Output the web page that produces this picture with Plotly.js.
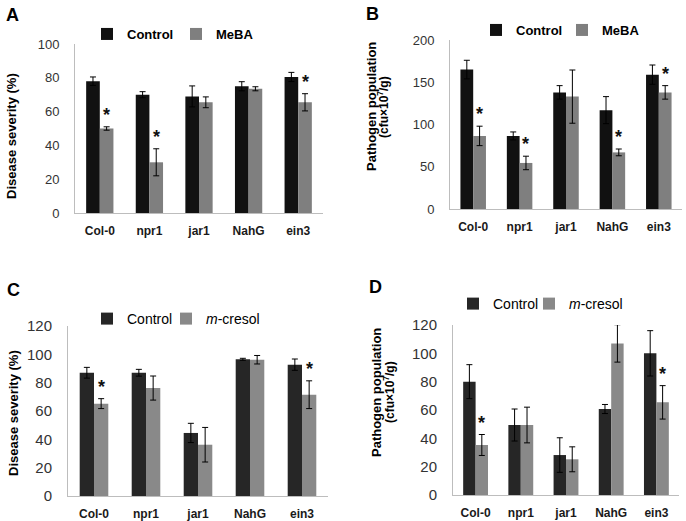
<!DOCTYPE html>
<html>
<head>
<meta charset="utf-8">
<script src="https://cdn.plot.ly/plotly-3.0.1.min.js"></script>
<style>html,body{margin:0;padding:0;background:#fff;}#chart{width:686px;height:521px;}</style>
</head>
<body>
<div id="chart"></div>
<script>
// ---- data ----
const categories = ['Col-0', 'npr1', 'jar1', 'NahG', 'ein3'];

const aControl    = [78, 70, 69, 75, 80.5];
const aControlErr = [2.5, 1.8, 6.2, 2.7, 2.7];
const aMeBA       = [50, 30, 65.5, 73.5, 65.5];
const aMeBAErr    = [1, 8, 3.2, 1.2, 5.1];
const aSig        = ['Col-0', 'npr1', 'ein3'];

const bControl    = [165, 86.5, 138, 117, 159];
const bControlErr = [11, 4.7, 8, 16, 11.4];
const bMeBA       = [86.5, 54.5, 133, 67, 138];
const bMeBAErr    = [11.5, 8, 31.5, 4, 8];
const bSig        = ['Col-0', 'npr1', 'NahG', 'ein3'];

const cControl    = [87, 87, 44.5, 96.5, 92.7];
const cControlErr = [3.8, 2.4, 6.8, 0.7, 4];
const cCresol     = [65.2, 76.2, 36.2, 96.2, 71.5];
const cCresolErr  = [3.5, 8.5, 12.2, 3, 9.8];
const cSig        = ['Col-0', 'ein3'];

const dControl    = [80, 49.4, 28.2, 60.7, 100];
const dControlErr = [12, 11.3, 12.2, 3.2, 16];
const dCresol     = [35.3, 49.4, 25.2, 107, 65.4];
const dCresolErr  = [7.4, 12.6, 8.8, 13.2, 11.8];
const dSig        = ['Col-0', 'ein3'];

// ---- styling helpers ----
const W = 686, H = 521;
const px = v => v / W;
const py = v => 1 - v / H;
const FONT = 'Liberation Sans, Arial, sans-serif';
const BARGAP = 0.45;

function err(arr) {
  return {type: 'data', array: arr, visible: true, color: '#000', thickness: 1, width: 3};
}
function bar(name, y, e, color, xa, ya, leg) {
  return {type: 'bar', name: name, x: categories, y: y, error_y: err(e),
          marker: {color: color, line: {width: 0}}, xaxis: xa, yaxis: ya,
          legend: leg, hoverinfo: 'skip'};
}

const data = [
  bar('Control', aControl, aControlErr, '#111111', 'x', 'y', 'legend'),
  bar('MeBA', aMeBA, aMeBAErr, '#7f7f7f', 'x', 'y', 'legend2'),
  bar('Control', bControl, bControlErr, '#111111', 'x2', 'y2', 'legend3'),
  bar('MeBA', bMeBA, bMeBAErr, '#7f7f7f', 'x2', 'y2', 'legend4'),
  bar('Control', cControl, cControlErr, '#262626', 'x3', 'y3', 'legend5'),
  bar('<i>m</i>-cresol', cCresol, cCresolErr, '#898989', 'x3', 'y3', 'legend6'),
  bar('Control', dControl, dControlErr, '#262626', 'x4', 'y4', 'legend7'),
  bar('<i>m</i>-cresol', dCresol, dCresolErr, '#898989', 'x4', 'y4', 'legend8')
];

function xaxis(d0, d1, anchor) {
  return {domain: [px(d0), px(d1)], anchor: anchor, type: 'category',
          showline: true, linecolor: '#bdbdbd', linewidth: 1, showgrid: false,
          zeroline: false, ticks: '', ticklabelstandoff: 7,
          tickfont: {family: FONT, size: 12, color: '#1a1a1a', weight: 'bold'}, fixedrange: true};
}
function yaxis(top, bottom, anchor, range, dtick, fs) {
  return {domain: [py(bottom), py(top)], anchor: anchor, range: range, dtick: dtick,
          showline: true, linecolor: '#bdbdbd', linewidth: 1, showgrid: false,
          zeroline: false, ticks: '', ticklabelstandoff: 12,
          tickfont: {family: FONT, size: fs, color: '#333'}, fixedrange: true};
}

const annotations = [];
function stars(sig, vals, errs, xref, yref) {
  sig.forEach(c => {
    const i = categories.indexOf(c);
    annotations.push({xref: xref, yref: yref, x: i + (1 - BARGAP) / 4, y: vals[i] + errs[i],
      text: '*', showarrow: false, yanchor: 'middle', xanchor: 'center', yshift: 12,
      font: {family: FONT, size: 18, color: '#111', weight: 'bold'}});
  });
}
stars(aSig, aMeBA, aMeBAErr, 'x', 'y');
stars(bSig, bMeBA, bMeBAErr, 'x2', 'y2');
stars(cSig, cCresol, cCresolErr, 'x3', 'y3');
stars(dSig, dCresol, dCresolErr, 'x4', 'y4');

function label(t, x, y) {
  annotations.push({xref: 'paper', yref: 'paper', x: px(x), y: py(y), text: t, showarrow: false,
    xanchor: 'center', yanchor: 'middle', font: {family: FONT, size: 18, color: '#000', weight: 'bold'}});
}
label('A', 12, 15); label('B', 372, 14); label('C', 13, 290); label('D', 376, 287);

function ytitle(t, x, y, size) {
  annotations.push({xref: 'paper', yref: 'paper', x: px(x), y: py(y), text: t, showarrow: false,
    textangle: -90, xanchor: 'center', yanchor: 'middle',
    font: {family: FONT, size: size, color: '#000', weight: 'bold'}});
}
ytitle('Disease severity (%)', 12, 136, 13);
ytitle('Pathogen population', 371, 107, 13);
ytitle('(cfu×10<sup>7</sup>/g)', 383, 107, 12);
ytitle('Disease severity (%)', 13, 413, 13);
ytitle('Pathogen population', 376, 392, 13);
ytitle('(cfu×10<sup>7</sup>/g)', 389, 392, 12);

function legend(x, y, fontOpts) {
  return {orientation: 'h', x: px(x), y: py(y), xanchor: 'left', yanchor: 'middle',
          bgcolor: 'rgba(0,0,0,0)', borderwidth: 0, itemwidth: 30, traceorder: 'normal',
          itemclick: false, itemdoubleclick: false, font: fontOpts};
}
const boldLeg = {family: FONT, size: 13, color: '#000', weight: 'bold'};
const plainLeg = {family: FONT, size: 14, color: '#000'};

const layout = {
  width: W, height: H,
  margin: {l: 0, r: 0, t: 0, b: 0},
  paper_bgcolor: '#fff', plot_bgcolor: '#fff',
  barmode: 'group', bargap: BARGAP, bargroupgap: 0,
  showlegend: true,
  xaxis: xaxis(75, 323, 'y'),
  yaxis: yaxis(44, 213, 'x', [0, 100], 20, 13),
  xaxis2: xaxis(450, 682, 'y2'),
  yaxis2: yaxis(40, 209, 'x2', [0, 200], 50, 13),
  xaxis3: xaxis(68, 328, 'y3'),
  yaxis3: yaxis(326, 496, 'x3', [0, 120], 20, 15),
  xaxis4: xaxis(453, 679, 'y4'),
  yaxis4: yaxis(325, 495, 'x4', [0, 120], 20, 15),
  legend:  legend(87, 34, boldLeg),
  legend2: legend(176, 34, boldLeg),
  legend3: legend(476, 30, boldLeg),
  legend4: legend(562, 30, boldLeg),
  legend5: legend(87, 319, plainLeg),
  legend6: legend(166, 319, plainLeg),
  legend7: legend(453, 304, plainLeg),
  legend8: legend(529, 304, plainLeg),
  annotations: annotations
};

Plotly.newPlot('chart', data, layout, {displayModeBar: false, staticPlot: true});
</script>
</body>
</html>
